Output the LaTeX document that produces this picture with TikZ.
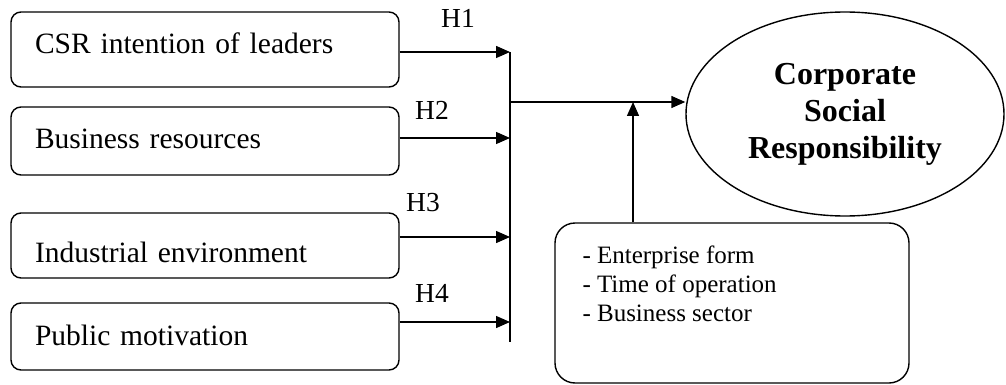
\documentclass[tikz,border=0pt]{standalone}
\usepackage{fontspec}
\setmainfont{Liberation Serif}
\usetikzlibrary{arrows.meta,shapes.geometric}

\tikzset{
  factor/.style={draw, rounded corners=10pt, line width=1.4pt,
    minimum width=388pt, text width=340pt, inner xsep=24pt, inner ysep=0pt,
    align=left, text height=40pt, font=\fontsize{29.5}{34}\selectfont},
  hlabel/.style={anchor=base, inner sep=0pt, font=\fontsize{27.5}{32}\selectfont},
  link/.style={line width=1.4pt, -{Triangle[length=14pt,width=12pt]}},
}

\begin{document}
\begin{tikzpicture}[x=1pt,y=-1pt]
\useasboundingbox (0,0) rectangle (1006,385);

% the vertical collector bar and the points the arrows meet
\coordinate (bartop) at (510,52);
\coordinate (barbot) at (510,342);
\coordinate (join) at (510,102);
\coordinate (meet) at (633,102);
\draw[line width=1.4pt] (bartop) -- (barbot);

% the four factors, each with its arrow and hypothesis
\foreach \name/\cy/\bh/\td/\dy/\hx/\hy/\hyp/\txt in {
  csr/49.5/75/31/-2.5/458/28/H1/CSR intention of leaders,
  res/141/68/26/3/432/120/H2/Business resources,
  ind/245.5/65/7/8.5/423/211/H3/Industrial environment,
  pub/336.5/67/23/14.5/432/302/H4/Public motivation}{
  \node[factor, minimum height=\bh pt, text depth=\td pt] (\name) at (205,\cy) {\txt};
  \node[hlabel] (\name-h) at (\hx,\hy) {\hyp};
  \coordinate (\name-out) at ([yshift=\dy pt]\name.east);
  \draw[link] (\name-out) -- (\name-out -| bartop);
}

% outcome
\node[draw, ellipse, line width=1.4pt, minimum width=318pt, minimum height=204pt,
  inner sep=0pt, align=center, font=\bfseries\fontsize{32}{37}\selectfont]
  (csrout) at (845,114) {Corporate\\Social\\Responsibility};

% control variables (base of the node is the last line)
\node[draw, rounded corners=20pt, line width=1.4pt, minimum width=354pt,
  minimum height=160pt] (ctrl) at (732,303) {};
\node[anchor=base west, inner sep=0pt, align=left,
  font=\fontsize{25}{29}\selectfont] (ctrltxt)
  at ([shift={(28,99)}]ctrl.north west)
  {- Enterprise form\\- Time of operation\\- Business sector};

\draw[link] (join) -- (join -| csrout.west);
\draw[link] (ctrl.north -| meet) -- (meet);

\end{tikzpicture}
\end{document}
